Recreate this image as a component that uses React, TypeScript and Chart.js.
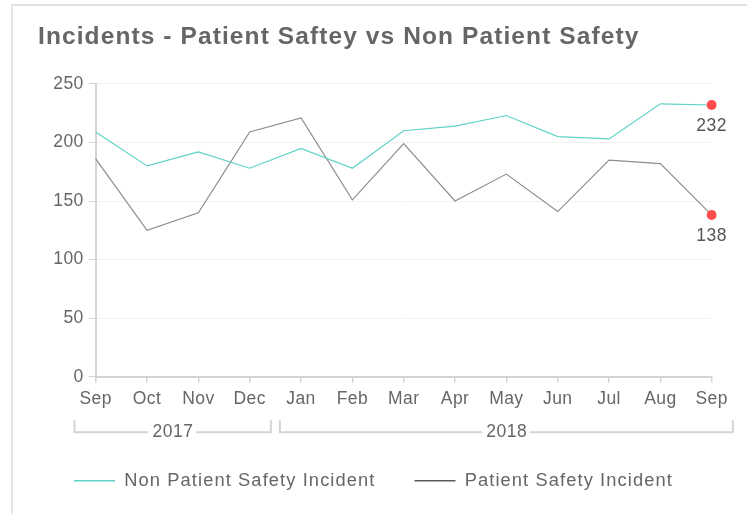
import React, { useEffect, useRef } from 'react';
import { Chart, registerables } from 'chart.js';

Chart.register(...registerables);

// ---- data ----
const months = ['Sep', 'Oct', 'Nov', 'Dec', 'Jan', 'Feb', 'Mar', 'Apr', 'May', 'Jun', 'Jul', 'Aug', 'Sep'];
const nonPatientSafety = [209, 180, 192, 178, 195, 178, 210, 214, 223, 205, 203, 233, 232];
const patientSafety = [186, 125, 140, 209, 221, 151, 199, 150, 173, 141, 185, 182, 138];
const seriesNames = ['Non Patient Safety Incident', 'Patient Safety Incident'];
const yearLabels = ['2017', '2018'];
const yearStartIndex = [0, 4];
const yearEndIndex = [3, 12];
const yTicks = [0, 50, 100, 150, 200, 250];
const titleText = 'Incidents - Patient Saftey vs Non Patient Safety';

// ---- styles ----
const FONT = "'Liberation Sans', Arial, Helvetica, sans-serif";
const WIDE_SPACING = '1.1px';
const TICK_SPACING = '0.4px';
const TEXT = '#666666';
const AXIS = '#d4d4d4';
const TEAL = '#5ed2c6';
const GRAY = '#8c8c8c';
const RED = '#ff4d4d';

const spacingPlugin = {
  id: 'letterSpacingPlugin',
  beforeUpdate(chart: any) { (chart.ctx as any).letterSpacing = WIDE_SPACING; },
  beforeLayout(chart: any) { (chart.ctx as any).letterSpacing = WIDE_SPACING; },
  afterLayout(chart: any) {
    if (chart.titleBlock) chart.titleBlock.left = 38;
  },
  beforeDraw(chart: any) { (chart.ctx as any).letterSpacing = WIDE_SPACING; },
  afterDatasetsDraw(chart: any) { (chart.ctx as any).letterSpacing = TICK_SPACING; },
};

const lastValuePlugin = {
  id: 'lastValueLabels',
  afterDatasetsDraw(chart: any) {
    const ctx = chart.ctx;
    ctx.save();
    (ctx as any).letterSpacing = '0.5px';
    ctx.font = `17.5px ${FONT}`;
    ctx.fillStyle = '#555555';
    ctx.textAlign = 'center';
    ctx.textBaseline = 'middle';
    chart.data.datasets.forEach((ds: any, i: number) => {
      const meta = chart.getDatasetMeta(i);
      const last = ds.data.length - 1;
      const el = meta.data[last];
      if (!el) return;
      ctx.fillText(String(ds.data[last]), el.x, el.y + 21);
    });
    ctx.restore();
  },
};

const yearBracketPlugin = {
  id: 'yearBrackets',
  afterDraw(chart: any) {
    const x = chart.scales.x;
    const ctx = chart.ctx;
    const step = x.getPixelForValue(1) - x.getPixelForValue(0);
    const lineY = x.bottom - 0.5;
    ctx.save();
    (ctx as any).letterSpacing = '0.5px';
    ctx.font = `17.5px ${FONT}`;
    ctx.textAlign = 'center';
    ctx.textBaseline = 'middle';
    ctx.strokeStyle = AXIS;
    ctx.lineWidth = 2;
    yearLabels.forEach((label, i) => {
      const left = x.getPixelForValue(yearStartIndex[i]) - step / 2 + 4.5;
      const right = x.getPixelForValue(yearEndIndex[i]) + step / 2 - 4.5;
      const mid = (left + right) / 2;
      const tw = ctx.measureText(label).width;
      const gapL = mid - tw / 2 - 4;
      const gapR = mid + tw / 2 + 3;
      ctx.beginPath();
      ctx.moveTo(left, lineY - 12);
      ctx.lineTo(left, lineY);
      ctx.lineTo(gapL, lineY);
      ctx.moveTo(gapR, lineY);
      ctx.lineTo(right, lineY);
      ctx.lineTo(right, lineY - 12);
      ctx.stroke();
      ctx.fillStyle = TEXT;
      ctx.fillText(label, mid + 0.3, lineY);
    });
    ctx.restore();
  },
};

export default function App() {
  const canvasRef = useRef<HTMLCanvasElement | null>(null);

  useEffect(() => {
    if (!canvasRef.current) return;
    Chart.defaults.font.family = FONT;
    const lastIdx = months.length - 1;
    const defaultLabels = Chart.defaults.plugins.legend.labels.generateLabels;
    const chart = new Chart(canvasRef.current, {
      type: 'line',
      data: {
        labels: months,
        datasets: [
          {
            label: seriesNames[0],
            data: nonPatientSafety,
            borderColor: TEAL,
            backgroundColor: TEAL,
            borderWidth: 1.2,
            tension: 0,
            pointRadius: (c: any) => (c.dataIndex === lastIdx ? 5 : 0),
            pointBackgroundColor: RED,
            pointBorderWidth: 0,
            pointHoverRadius: 5,
          },
          {
            label: seriesNames[1],
            data: patientSafety,
            borderColor: GRAY,
            backgroundColor: '#5a5a5a',
            borderWidth: 1.2,
            tension: 0,
            pointRadius: (c: any) => (c.dataIndex === lastIdx ? 5 : 0),
            pointBackgroundColor: RED,
            pointBorderWidth: 0,
            pointHoverRadius: 5,
          },
        ],
      },
      options: {
        responsive: false,
        animation: false,
        layout: { padding: { left: 0, right: 0, top: 0, bottom: 14 } },
        plugins: {
          title: {
            display: true,
            text: titleText,
            align: 'start',
            color: TEXT,
            font: { size: 24.5, weight: 'bold', family: FONT },
            padding: { top: 22.4, bottom: 32.1 },
          },
          legend: {
            position: 'bottom',
            labels: {
              boxWidth: 41,
              boxHeight: 1.5,
              padding: 39,
              color: TEXT,
              font: { size: 18.3, family: FONT },
              generateLabels: (ch: any) =>
                defaultLabels(ch).map((l: any) => ({ ...l, lineWidth: 0 })),
            },
          },
          tooltip: { enabled: false },
        },
        scales: {
          x: {
            offset: false,
            grid: { display: true, drawOnChartArea: false, drawTicks: true, tickLength: 6, tickColor: AXIS, lineWidth: 1.5 },
            border: { display: true, color: AXIS, width: 2 },
            ticks: { z: 1, color: TEXT, font: { size: 17.5, family: FONT }, padding: 5.5, maxRotation: 0, autoSkip: false },
            afterFit: (axis: any) => { axis.height = 56; },
          },
          y: {
            min: yTicks[0],
            max: yTicks[yTicks.length - 1],
            grid: { color: '#f2f2f2', lineWidth: 1, drawTicks: true, tickLength: 7, tickColor: AXIS },
            border: { display: true, color: AXIS, width: 2 },
            ticks: { z: 1, stepSize: yTicks[1] - yTicks[0], color: TEXT, font: { size: 17.5, family: FONT }, padding: 5 },
            afterFit: (axis: any) => { axis.width = 95.7; },
          },
          yRightSpace: {
            type: 'linear',
            position: 'right',
            display: true,
            grid: { display: false, drawTicks: false },
            border: { display: false },
            ticks: { display: false },
            afterFit: (axis: any) => { axis.width = 35.3; },
          },
        },
      },
      plugins: [spacingPlugin, lastValuePlugin, yearBracketPlugin],
    } as any);
    return () => chart.destroy();
  }, []);

  return (
    <div style={{ position: 'absolute', left: 0, top: 0, width: 747, height: 514, background: '#ffffff', overflow: 'hidden' }}>
      <div
        style={{
          position: 'absolute', left: 11, top: 4, right: -4, bottom: -4,
          borderTop: '2px solid #e2e2e2', borderLeft: '2px solid #e6e6e6',
        }}
      />
      <canvas ref={canvasRef} width={747} height={514} style={{ position: 'absolute', left: 0, top: 0 }} />
    </div>
  );
}
